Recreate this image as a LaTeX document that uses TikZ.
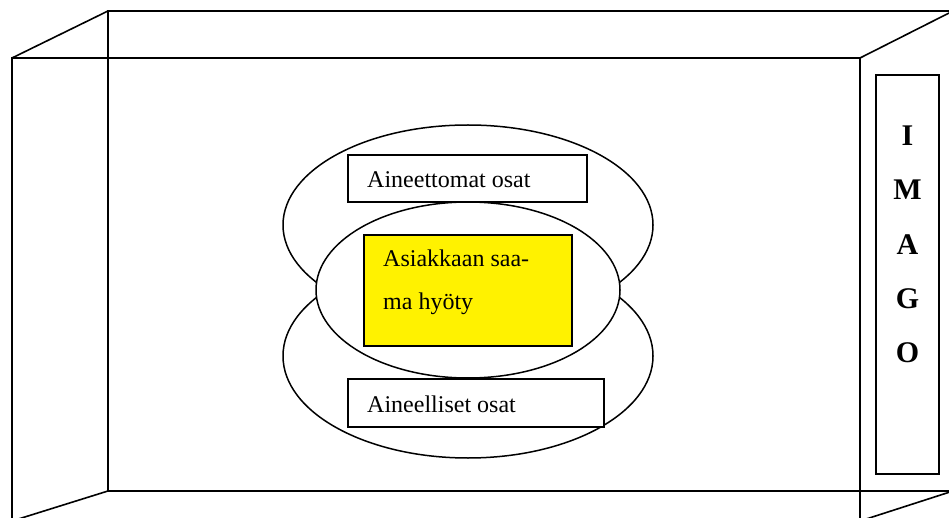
\documentclass[tikz,border=0pt]{standalone}
\usepackage{fontspec}
\setmainfont{Liberation Serif}
\usetikzlibrary{shapes.geometric}
\begin{document}
\begin{tikzpicture}[x=1pt,y=-1pt,
  frame/.style={draw=black, line width=1.6pt},
  box/.style={draw=black, line width=1.6pt, fill=white, inner sep=0pt},
  lbl/.style={anchor=base west, inner sep=0pt, font=\fontsize{24}{28}\selectfont},
  ell/.style={ellipse, draw=black, line width=1.5pt, inner sep=0pt},
  imago/.style={anchor=base, inner sep=0pt, font=\fontsize{30}{34}\selectfont\bfseries}]
\useasboundingbox (0,0) rectangle (949,518);
\clip (0,0) rectangle (949,518);
% corners of the two rectangles
\coordinate (bNW) at (108,11);
\coordinate (bNE) at (953,11);
\coordinate (bSW) at (108,491);
\coordinate (bSE) at (953,491);
\coordinate (fNW) at (12,58);
\coordinate (fNE) at (860,58);
\coordinate (fSW) at (12,521);
\coordinate (fSE) at (860,521);
% back rectangle
\draw[frame] (bNW) rectangle (bSE);
% front rectangle
\draw[frame] (fNW) rectangle (fSE);
% connecting edges
\draw[frame] (fNW) -- (bNW);
\draw[frame] (fNE) -- (bNE);
\draw[frame] (fSW) -- (bSW);
\draw[frame] (fSE) -- (bSE);
% ellipses
\node[ell, minimum width=370, minimum height=200] (etop) at (468,225) {};
\node[ell, minimum width=370, minimum height=204] (ebot) at (468,356) {};
\node[ell, fill=white, minimum width=304, minimum height=176] (emid) at (468,290) {};
% boxes
\node[box, minimum width=239, minimum height=47] (aineettomat) at (467.5,178.5) {};
\node[box, fill=yellow, minimum width=208, minimum height=111] (hyoty) at (468,290.5) {};
\node[box, minimum width=256, minimum height=48] (aineelliset) at (476,403) {};
\node[box, minimum width=63, minimum height=399] (imagobox) at (907.5,274.5) {};
% texts
\node[lbl] (t1) at (367,188) {Aineettomat osat};
\node[lbl] (t2) at (383,266) {Asiakkaan saa-};
\node[lbl] (t3) at (383,309) {ma hyöty};
\node[lbl] (t4) at (367,412) {Aineelliset osat};
\node[imago] (lI) at (907.5,146) {I};
\node[imago] (lM) at (907.5,200) {M};
\node[imago] (lA) at (907.5,255) {A};
\node[imago] (lG) at (907.5,308) {G};
\node[imago] (lO) at (907.5,362) {O};
\end{tikzpicture}
\end{document}
